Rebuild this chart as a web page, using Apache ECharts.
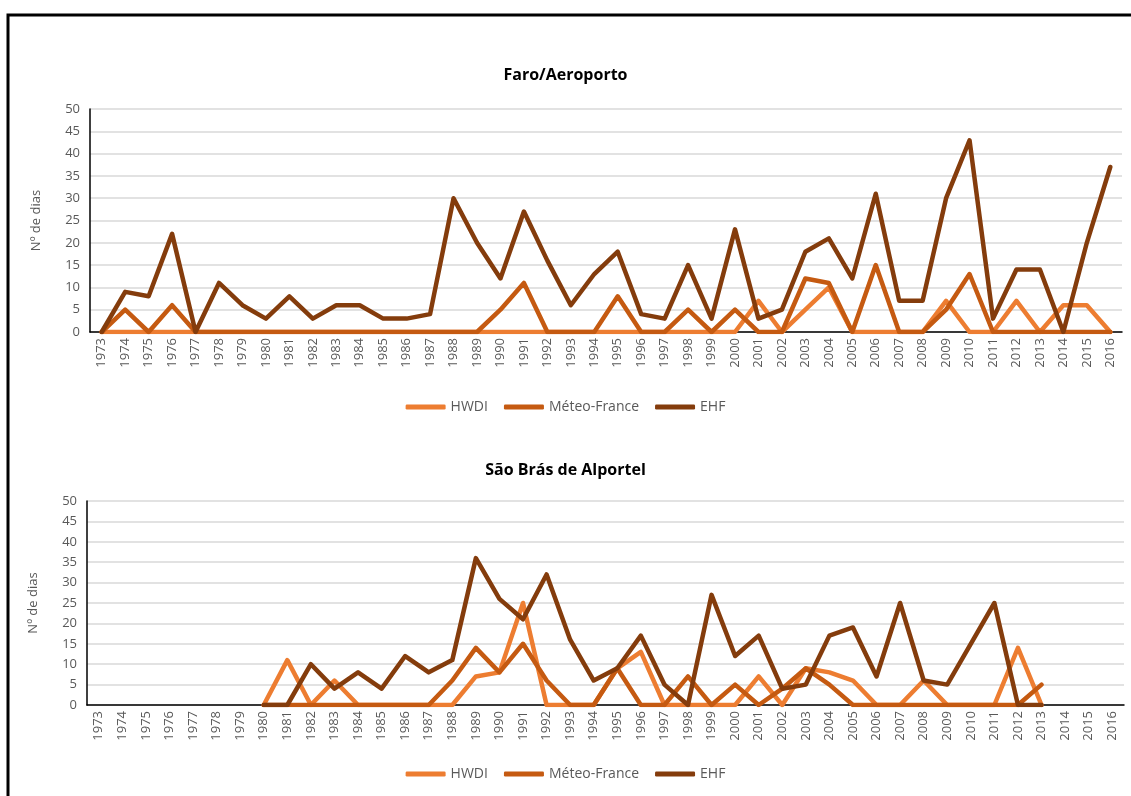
<!DOCTYPE html>
<html>
<head>
<meta charset="utf-8">
<script src="https://cdn.jsdelivr.net/npm/echarts@6/dist/echarts.min.js"></script>
<style>
  html, body { margin: 0; padding: 0; background: #fff; }
  #main { width: 1131px; height: 796px; }
</style>
</head>
<body>
<div id="main"></div>
<script>
// anos (eixo x)
var years = ['1973','1974','1975','1976','1977','1978','1979','1980','1981','1982',
             '1983','1984','1985','1986','1987','1988','1989','1990','1991','1992',
             '1993','1994','1995','1996','1997','1998','1999','2000','2001','2002',
             '2003','2004','2005','2006','2007','2008','2009','2010','2011','2012',
             '2013','2014','2015','2016'];

// Faro/Aeroporto
var faroHWDI  = [0,0,0,0,0,0,0,0,0,0, 0,0,0,0,0,0,0,0,0,0, 0,0,0,0,0,0,0,0,7,0, 5,10,0,0,0,0,7,0,0,7, 0,6,6,0];
var faroMeteo = [0,5,0,6,0,0,0,0,0,0, 0,0,0,0,0,0,0,5,11,0, 0,0,8,0,0,5,0,5,0,0, 12,11,0,15,0,0,5,13,0,0, 0,0,0,0];
var faroEHF   = [0,9,8,22,0,11,6,3,8,3, 6,6,3,3,4,30,20,12,27,16, 6,13,18,4,3,15,3,23,3,5, 18,21,12,31,7,7,30,43,3,14, 14,0,20,37];

// São Brás de Alportel (1980-2013)
var sbHWDI  = [null,null,null,null,null,null,null, 0,11,0, 6,0,0,0,0,0,7,8,25,0, 0,0,9,13,0,0,0,0,7,0, 9,8,6,0,0,6,0,0,0,14, 0,null,null,null];
var sbMeteo = [null,null,null,null,null,null,null, 0,0,0, 0,0,0,0,0,6,14,8,15,6, 0,0,9,0,0,7,0,5,0,4, 9,5,0,0,0,0,0,0,0,0, 5,null,null,null];
var sbEHF   = [null,null,null,null,null,null,null, 0,0,10, 4,8,4,12,8,11,36,26,21,32, 16,6,9,17,5,0,27,12,17,4, 5,17,19,7,25,6,5,15,25,0, 0,null,null,null];

var names = ['HWDI', 'Méteo-France', 'EHF'];
var cores = ['#ED7D31', '#C55A11', '#843C0C'];
var fonte = '"Open Sans", "Noto Sans", sans-serif';

var myChart = echarts.init(document.getElementById('main'));

function eixoX(idx) {
    return {
        type: 'category', gridIndex: idx, data: years, boundaryGap: true,
        axisLine: { lineStyle: { color: '#000', width: 1.5 } },
        axisTick: { show: false },
        axisLabel: { rotate: 90, color: '#595959', fontSize: 13, fontFamily: fonte, margin: 6, interval: 0 }
    };
}
function eixoY(idx) {
    return {
        type: 'value', gridIndex: idx, min: 0, max: 50, interval: 5,
        name: 'Nº de dias', nameLocation: 'middle', nameGap: 47,
        nameTextStyle: { color: '#595959', fontSize: 13, fontFamily: fonte },
        axisLine: { show: true, lineStyle: { color: '#000', width: 1.5 } },
        axisTick: { show: false },
        axisLabel: { color: '#595959', fontSize: 13, fontFamily: fonte, margin: 10 },
        splitLine: { lineStyle: { color: '#D9D9D9', width: 1.5 } }
    };
}
function serie(nome, dados, cor, idx) {
    return {
        name: nome, type: 'line', data: dados, xAxisIndex: idx, yAxisIndex: idx,
        symbol: 'none', connectNulls: false,
        lineStyle: { color: cor, width: 4.5, cap: 'round', join: 'round' },
        itemStyle: { color: cor }
    };
}
function legenda(topo) {
    return {
        top: topo, left: 'center', data: names, icon: 'roundRect',
        itemWidth: 40, itemHeight: 5, itemGap: 16,
        textStyle: { color: '#595959', fontSize: 14, fontFamily: fonte }
    };
}

option = {
    animation: false,
    title: [
        { text: 'Faro/Aeroporto', left: 'center', top: 62,
          textStyle: { color: '#000', fontSize: 16, fontWeight: 'bold', fontFamily: fonte } },
        { text: 'São Brás de Alportel', left: 'center', top: 457,
          textStyle: { color: '#000', fontSize: 16, fontWeight: 'bold', fontFamily: fonte } }
    ],
    legend: [legenda(395), legenda(762)],
    grid: [
        { left: 90, right: 9, top: 109, height: 223 },
        { left: 87, right: 7, top: 501, height: 204 }
    ],
    xAxis: [eixoX(0), eixoX(1)],
    yAxis: [eixoY(0), eixoY(1)],
    graphic: [{
        type: 'polyline', silent: true,
        shape: { points: [[8, 796], [8, 15], [1131, 15]] },
        style: { stroke: '#000', lineWidth: 3, fill: null }
    }],
    series: [
        serie(names[0], faroHWDI, cores[0], 0),
        serie(names[1], faroMeteo, cores[1], 0),
        serie(names[2], faroEHF, cores[2], 0),
        serie(names[0], sbHWDI, cores[0], 1),
        serie(names[1], sbMeteo, cores[1], 1),
        serie(names[2], sbEHF, cores[2], 1)
    ]
};

myChart.setOption(option);
</script>
</body>
</html>
